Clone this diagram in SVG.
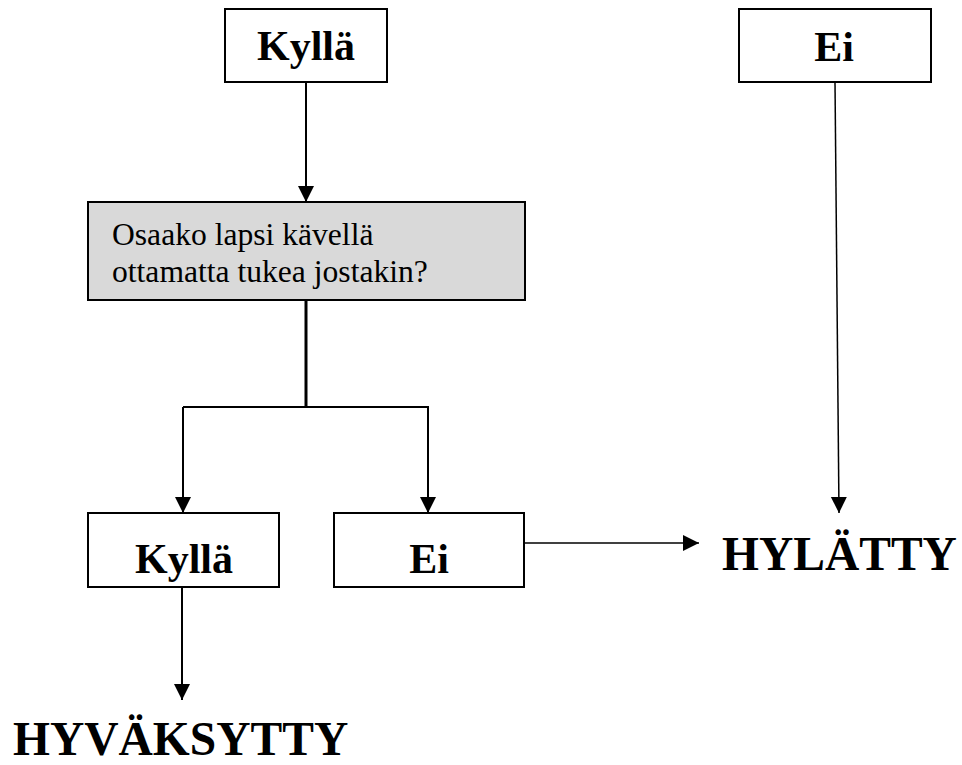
<svg xmlns="http://www.w3.org/2000/svg" width="962" height="765" viewBox="0 0 962 765">
  <style>
    .box { fill: #ffffff; stroke: #000000; stroke-width: 2; }
    .q { fill: #d9d9d9; stroke: #000000; stroke-width: 2; }
    .lbl { font-family: "Liberation Serif", "Times New Roman", serif; font-weight: bold; font-size: 42px; fill: #000; text-anchor: middle; }
    .big { font-family: "Liberation Serif", "Times New Roman", serif; font-weight: bold; font-size: 47.5px; fill: #000; }
    .txt { font-family: "Liberation Serif", "Times New Roman", serif; font-size: 31.6px; fill: #000; }
    .ln { fill: none; stroke: #000; stroke-width: 2; }
    .thin { fill: none; stroke: #000; stroke-width: 1.5; }
    .thick { fill: none; stroke: #000; stroke-width: 3; }
  </style>
  <defs>
    <marker id="arr" markerUnits="userSpaceOnUse" markerWidth="17" markerHeight="17" refX="16" refY="8" orient="auto">
      <path d="M0,0 L16,8 L0,16 z" fill="#000"/>
    </marker>
  </defs>
  <rect width="962" height="765" fill="#ffffff"/>

  <g id="connectors">
    <line class="ln" x1="306" y1="82" x2="306" y2="202" marker-end="url(#arr)"/>
    <line class="thin" x1="835" y1="82" x2="839" y2="513" marker-end="url(#arr)"/>
    <polyline class="thick" points="306,300 306,407"/>
    <polyline class="ln" points="183,407 429,407"/>
    <polyline class="ln" points="183,407 183,513" marker-end="url(#arr)"/>
    <polyline class="ln" points="428,407 428,513" marker-end="url(#arr)"/>
    <line class="thin" x1="524" y1="543" x2="699" y2="543" marker-end="url(#arr)"/>
    <line class="ln" x1="182" y1="587" x2="182" y2="700" marker-end="url(#arr)"/>
  </g>

  <g id="top-kylla">
    <rect class="box" x="225" y="9" width="162" height="73"/>
    <text class="lbl" x="306" y="60">Kyllä</text>
  </g>
  <g id="top-ei">
    <rect class="box" x="739" y="9" width="192" height="73"/>
    <text class="lbl" x="834" y="61">Ei</text>
  </g>
  <g id="question">
    <rect class="q" x="88" y="202" width="437" height="98"/>
    <text class="txt" x="112" y="245">Osaako lapsi kävellä</text>
    <text class="txt" x="112" y="282">ottamatta tukea jostakin?</text>
  </g>
  <g id="mid-kylla">
    <rect class="box" x="88" y="513" width="191" height="74"/>
    <text class="lbl" x="184" y="573">Kyllä</text>
  </g>
  <g id="mid-ei">
    <rect class="box" x="334" y="513" width="190" height="74"/>
    <text class="lbl" x="429" y="573">Ei</text>
  </g>
  <g id="hylatty">
    <text class="big" x="722" y="570">HYLÄTTY</text>
  </g>
  <g id="hyvaksytty">
    <text class="big" x="13" y="755">HYVÄKSYTTY</text>
  </g>
</svg>
